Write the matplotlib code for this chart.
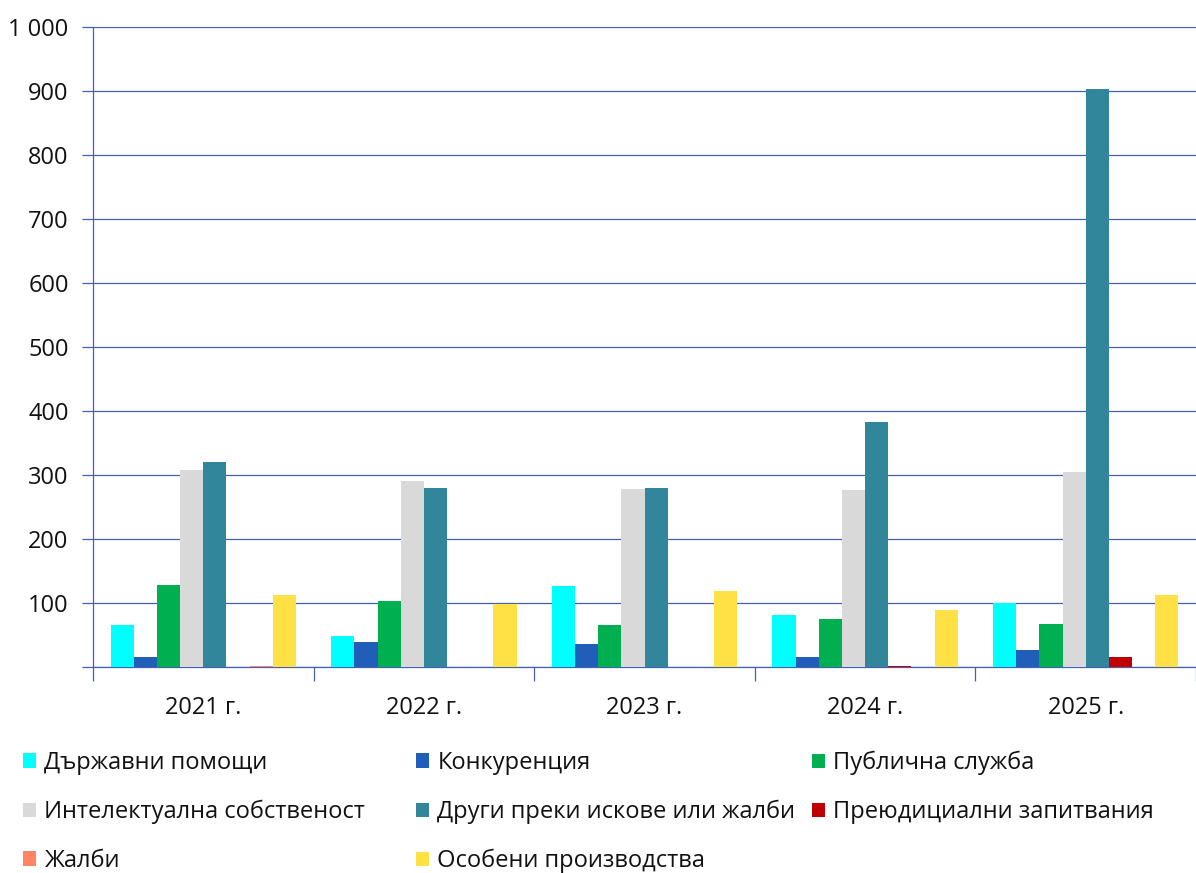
import numpy as np
import matplotlib
matplotlib.use('Agg')
import matplotlib.pyplot as plt
from matplotlib.patches import Patch
from matplotlib import ticker

plt.rcParams['font.family'] = ['Open Sans', 'DejaVu Sans']

# Data
years = ['2021 г.', '2022 г.', '2023 г.', '2024 г.', '2025 г.']
series_names = ['Държавни помощи', 'Конкуренция', 'Публична служба',
                'Интелектуална собственост', 'Други преки искове или жалби',
                'Преюдициални запитвания', 'Жалби', 'Особени производства']
state_aid = [65, 48, 127, 82, 100]
competition = [15, 39, 36, 15, 27]
civil_service = [128, 103, 66, 75, 67]
intellectual_property = [308, 291, 278, 277, 304]
other_direct = [320, 279, 280, 383, 903]
preliminary = [0, 0, 0, 1, 16]
appeals = [2, 0, 0, 0, 0]
special = [113, 98, 118, 89, 112]
yticks = [0, 100, 200, 300, 400, 500, 600, 700, 800, 900, 1000]

values = [state_aid, competition, civil_service, intellectual_property,
          other_direct, preliminary, appeals, special]
colors = ['#00FFFF', '#215EBA', '#00AF50', '#D9D9D9',
          '#31869C', '#C00000', '#FF8566', '#FFE145']
axis_color = '#4560B0'
fs = 17

fig = plt.figure(figsize=(11.96, 8.73), dpi=100)
ax = fig.add_axes([93 / 1196, 1 - 667 / 873, 1 - 93 / 1196, 640 / 873])

x = np.arange(len(years))
width = 0.105
for i, (vals, col) in enumerate(zip(values, colors)):
    offset = (i - 3.5) * width
    ax.bar(x + offset, vals, width, color=col, edgecolor='none', zorder=3)

ax.set_xlim(-0.5, len(years) - 0.5)
ax.set_ylim(0, 1000)
ax.set_yticks(yticks)
ax.yaxis.set_major_formatter(ticker.FuncFormatter(
    lambda v, p: '' if v == 0 else f'{int(v):,}'.replace(',', ' ')))
ax.grid(axis='y', color=axis_color, linewidth=0.9, zorder=0)
ax.set_axisbelow(True)

for s in ['top', 'right']:
    ax.spines[s].set_visible(False)
for s in ['left', 'bottom']:
    ax.spines[s].set_color(axis_color)
    ax.spines[s].set_linewidth(0.9)

ax.set_xticks(x)
ax.set_xticklabels(years)
ax.set_xticks(np.arange(len(years) + 1) - 0.5, minor=True)
ax.tick_params(axis='x', which='major', length=0, pad=21, labelsize=fs, colors='#111111')
ax.tick_params(axis='x', which='minor', length=10, color=axis_color, width=0.9)
ax.tick_params(axis='y', length=8, color=axis_color, width=0.9, pad=9.5,
               labelsize=fs, labelcolor='#111111')

# Legend in three fixed-width columns
handles = [Patch(facecolor=c, edgecolor='none') for c in colors]
columns = [[0, 3, 6], [1, 4, 7], [2, 5]]
col_x = [23, 416, 812]
for cx, idx in zip(col_x, columns):
    fig.legend([handles[k] for k in idx], [series_names[k] for k in idx],
               loc='upper left', bbox_to_anchor=(cx / 1196, 1 - 751 / 873),
               frameon=False, fontsize=fs, ncol=1, borderpad=0, borderaxespad=0,
               handlelength=0.56, handleheight=0.56, handletextpad=0.35,
               labelspacing=1.05, labelcolor='#111111')

fig.savefig('out.png', dpi=100)
